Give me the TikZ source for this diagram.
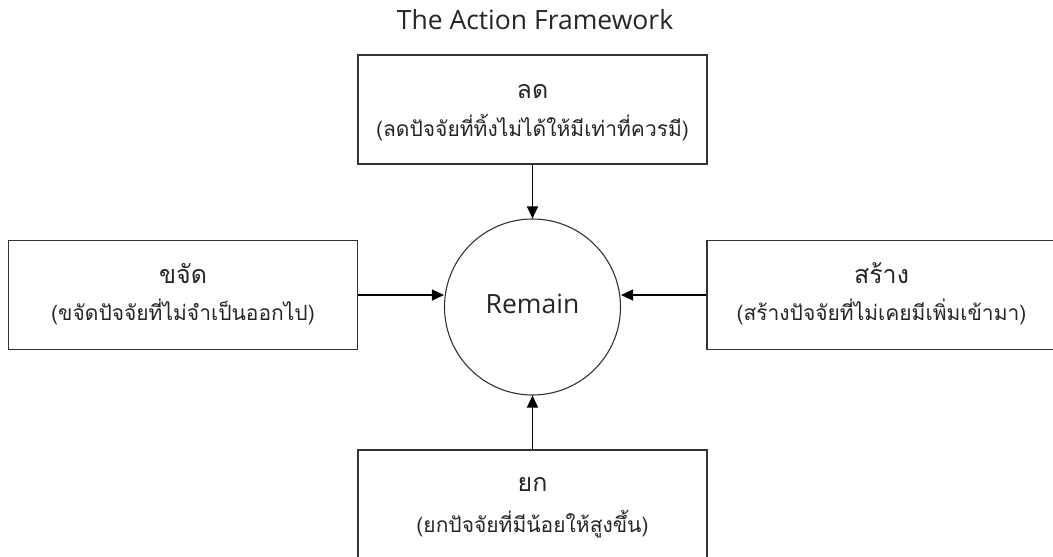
\documentclass[tikz,border=0pt]{standalone}
\usepackage{fontspec}
\setmainfont{Open Sans}
\newfontfamily\thaifont[Script=Thai]{Loma}
\usetikzlibrary{arrows.meta}
\definecolor{ink}{HTML}{262626}
\definecolor{edge}{HTML}{333333}
\tikzset{
  box/.style={draw=edge, line width=1.4pt, minimum width=349pt, minimum height=109pt, inner sep=0pt},
  hub/.style={draw=edge, line width=1.1pt, circle, minimum size=176pt, inner sep=0pt},
  head/.style={font=\thaifont\fontsize{25}{29}\selectfont, text=ink, anchor=base, inner sep=0pt},
  sub/.style={font=\thaifont\fontsize{21}{25}\selectfont, text=ink, anchor=base, inner sep=0pt},
  latin/.style={font=\fontsize{26.5}{31}\selectfont, text=ink, anchor=base, inner sep=0pt},
  flow/.style={draw=black, line width=1.3pt, -{Triangle[length=12pt,width=11pt]}}
}
\begin{document}
\begin{tikzpicture}[x=1pt, y=-1pt]
\useasboundingbox (0,0) rectangle (1053,557);

% title
\node[latin] (title) at (535,29) {The Action Framework};

% central circle
\node[hub] (c) at (532.5,307) {};
\node[latin] (remain) at (532.5,313) {Remain};

% four boxes
\node[box] (t) at (532.5,109.5) {};
\node[box] (l) at (183,295) {};
\node[box] (r) at (881.5,295) {};
\node[box] (b) at (532.5,504.5) {};

% box texts
\node[head] (tH) at ([yshift=-44pt]t.north) {ลด};
\node[sub]  (tS) at ([yshift=-82pt]t.north) {(ลดปัจจัยที่ทิ้งไม่ได้ให้มีเท่าที่ควรมี)};
\node[head] (lH) at ([yshift=-44pt]l.north) {ขจัด};
\node[sub]  (lS) at ([yshift=-81pt]l.north) {(ขจัดปัจจัยที่ไม่จำเป็นออกไป)};
\node[head] (rH) at ([yshift=-44pt]r.north) {สร้าง};
\node[sub]  (rS) at ([yshift=-81pt]r.north) {(สร้างปัจจัยที่ไม่เคยมีเพิ่มเข้ามา)};
\node[head] (bH) at ([yshift=-42pt]b.north) {ยก};
\node[sub]  (bS) at ([yshift=-83pt]b.north) {(ยกปัจจัยที่มีน้อยให้สูงขึ้น)};

% connectors into the circle
\draw[flow] (t.south) -- (c.north);
\draw[flow] (b.north) -- (c.south);
\draw[flow] (l.east) -- (c.west |- l.east);
\draw[flow] (r.west) -- (c.east |- r.west);
\end{tikzpicture}
\end{document}
